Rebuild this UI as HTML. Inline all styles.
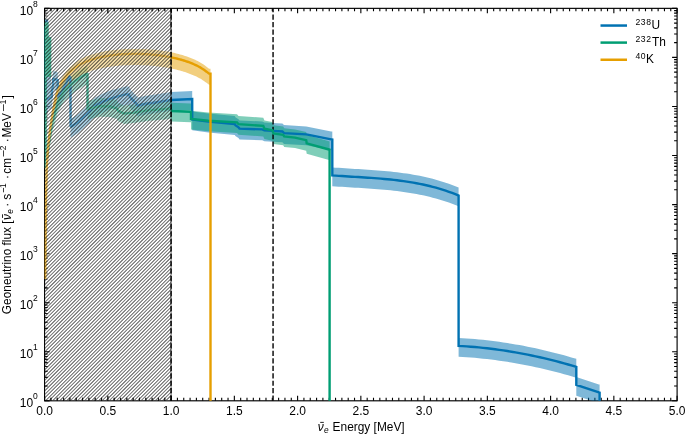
<!DOCTYPE html>
<html><head><meta charset="utf-8"><title>Geoneutrino flux</title>
<style>html,body{margin:0;padding:0;background:#fff;width:685px;height:434px;overflow:hidden}svg{display:block}
text{font-family:"Liberation Sans",sans-serif}svg{will-change:transform}</style></head>
<body>
<svg width="685" height="434" viewBox="0 0 685 434">
<defs>
<clipPath id="ax"><rect x="44.60" y="8.35" width="632.50" height="392.45"/></clipPath>
<linearGradient id="hatch" gradientUnits="userSpaceOnUse" x1="0.2000" y1="0" x2="1.9700" y2="1.7700" spreadMethod="repeat"><stop offset="0" stop-color="#000" stop-opacity="0.500"/><stop offset="0.15" stop-color="#000" stop-opacity="0.480"/><stop offset="0.29" stop-color="#000" stop-opacity="0.100"/><stop offset="0.35" stop-color="#000" stop-opacity="0.000"/><stop offset="0.65" stop-color="#000" stop-opacity="0.000"/><stop offset="0.71" stop-color="#000" stop-opacity="0.100"/><stop offset="0.85" stop-color="#000" stop-opacity="0.480"/><stop offset="1" stop-color="#000" stop-opacity="0.500"/></linearGradient>
</defs>
<rect width="685" height="434" fill="#fff"/>
<path d="M44.60,400.8 v-5.0 M44.60,8.35 v5.0 M50.93,400.8 v-3.0 M50.93,8.35 v3.0 M57.25,400.8 v-3.0 M57.25,8.35 v3.0 M63.58,400.8 v-3.0 M63.58,8.35 v3.0 M69.90,400.8 v-3.0 M69.90,8.35 v3.0 M76.22,400.8 v-3.0 M76.22,8.35 v3.0 M82.55,400.8 v-3.0 M82.55,8.35 v3.0 M88.88,400.8 v-3.0 M88.88,8.35 v3.0 M95.20,400.8 v-3.0 M95.20,8.35 v3.0 M101.53,400.8 v-3.0 M101.53,8.35 v3.0 M107.85,400.8 v-5.0 M107.85,8.35 v5.0 M114.18,400.8 v-3.0 M114.18,8.35 v3.0 M120.50,400.8 v-3.0 M120.50,8.35 v3.0 M126.82,400.8 v-3.0 M126.82,8.35 v3.0 M133.15,400.8 v-3.0 M133.15,8.35 v3.0 M139.47,400.8 v-3.0 M139.47,8.35 v3.0 M145.80,400.8 v-3.0 M145.80,8.35 v3.0 M152.12,400.8 v-3.0 M152.12,8.35 v3.0 M158.45,400.8 v-3.0 M158.45,8.35 v3.0 M164.78,400.8 v-3.0 M164.78,8.35 v3.0 M171.10,400.8 v-5.0 M171.10,8.35 v5.0 M177.42,400.8 v-3.0 M177.42,8.35 v3.0 M183.75,400.8 v-3.0 M183.75,8.35 v3.0 M190.08,400.8 v-3.0 M190.08,8.35 v3.0 M196.40,400.8 v-3.0 M196.40,8.35 v3.0 M202.72,400.8 v-3.0 M202.72,8.35 v3.0 M209.05,400.8 v-3.0 M209.05,8.35 v3.0 M215.38,400.8 v-3.0 M215.38,8.35 v3.0 M221.70,400.8 v-3.0 M221.70,8.35 v3.0 M228.03,400.8 v-3.0 M228.03,8.35 v3.0 M234.35,400.8 v-5.0 M234.35,8.35 v5.0 M240.67,400.8 v-3.0 M240.67,8.35 v3.0 M247.00,400.8 v-3.0 M247.00,8.35 v3.0 M253.32,400.8 v-3.0 M253.32,8.35 v3.0 M259.65,400.8 v-3.0 M259.65,8.35 v3.0 M265.98,400.8 v-3.0 M265.98,8.35 v3.0 M272.30,400.8 v-3.0 M272.30,8.35 v3.0 M278.62,400.8 v-3.0 M278.62,8.35 v3.0 M284.95,400.8 v-3.0 M284.95,8.35 v3.0 M291.28,400.8 v-3.0 M291.28,8.35 v3.0 M297.60,400.8 v-5.0 M297.60,8.35 v5.0 M303.93,400.8 v-3.0 M303.93,8.35 v3.0 M310.25,400.8 v-3.0 M310.25,8.35 v3.0 M316.58,400.8 v-3.0 M316.58,8.35 v3.0 M322.90,400.8 v-3.0 M322.90,8.35 v3.0 M329.23,400.8 v-3.0 M329.23,8.35 v3.0 M335.55,400.8 v-3.0 M335.55,8.35 v3.0 M341.88,400.8 v-3.0 M341.88,8.35 v3.0 M348.20,400.8 v-3.0 M348.20,8.35 v3.0 M354.53,400.8 v-3.0 M354.53,8.35 v3.0 M360.85,400.8 v-5.0 M360.85,8.35 v5.0 M367.18,400.8 v-3.0 M367.18,8.35 v3.0 M373.50,400.8 v-3.0 M373.50,8.35 v3.0 M379.83,400.8 v-3.0 M379.83,8.35 v3.0 M386.15,400.8 v-3.0 M386.15,8.35 v3.0 M392.48,400.8 v-3.0 M392.48,8.35 v3.0 M398.80,400.8 v-3.0 M398.80,8.35 v3.0 M405.12,400.8 v-3.0 M405.12,8.35 v3.0 M411.45,400.8 v-3.0 M411.45,8.35 v3.0 M417.78,400.8 v-3.0 M417.78,8.35 v3.0 M424.10,400.8 v-5.0 M424.10,8.35 v5.0 M430.43,400.8 v-3.0 M430.43,8.35 v3.0 M436.75,400.8 v-3.0 M436.75,8.35 v3.0 M443.08,400.8 v-3.0 M443.08,8.35 v3.0 M449.40,400.8 v-3.0 M449.40,8.35 v3.0 M455.73,400.8 v-3.0 M455.73,8.35 v3.0 M462.05,400.8 v-3.0 M462.05,8.35 v3.0 M468.38,400.8 v-3.0 M468.38,8.35 v3.0 M474.70,400.8 v-3.0 M474.70,8.35 v3.0 M481.03,400.8 v-3.0 M481.03,8.35 v3.0 M487.35,400.8 v-5.0 M487.35,8.35 v5.0 M493.68,400.8 v-3.0 M493.68,8.35 v3.0 M500.00,400.8 v-3.0 M500.00,8.35 v3.0 M506.33,400.8 v-3.0 M506.33,8.35 v3.0 M512.65,400.8 v-3.0 M512.65,8.35 v3.0 M518.98,400.8 v-3.0 M518.98,8.35 v3.0 M525.30,400.8 v-3.0 M525.30,8.35 v3.0 M531.62,400.8 v-3.0 M531.62,8.35 v3.0 M537.95,400.8 v-3.0 M537.95,8.35 v3.0 M544.27,400.8 v-3.0 M544.27,8.35 v3.0 M550.60,400.8 v-5.0 M550.60,8.35 v5.0 M556.93,400.8 v-3.0 M556.93,8.35 v3.0 M563.25,400.8 v-3.0 M563.25,8.35 v3.0 M569.58,400.8 v-3.0 M569.58,8.35 v3.0 M575.90,400.8 v-3.0 M575.90,8.35 v3.0 M582.23,400.8 v-3.0 M582.23,8.35 v3.0 M588.55,400.8 v-3.0 M588.55,8.35 v3.0 M594.88,400.8 v-3.0 M594.88,8.35 v3.0 M601.20,400.8 v-3.0 M601.20,8.35 v3.0 M607.52,400.8 v-3.0 M607.52,8.35 v3.0 M613.85,400.8 v-5.0 M613.85,8.35 v5.0 M620.18,400.8 v-3.0 M620.18,8.35 v3.0 M626.50,400.8 v-3.0 M626.50,8.35 v3.0 M632.83,400.8 v-3.0 M632.83,8.35 v3.0 M639.15,400.8 v-3.0 M639.15,8.35 v3.0 M645.48,400.8 v-3.0 M645.48,8.35 v3.0 M651.80,400.8 v-3.0 M651.80,8.35 v3.0 M658.13,400.8 v-3.0 M658.13,8.35 v3.0 M664.45,400.8 v-3.0 M664.45,8.35 v3.0 M670.77,400.8 v-3.0 M670.77,8.35 v3.0 M677.10,400.8 v-5.0 M677.10,8.35 v5.0 M44.6,400.80 h5.0 M677.1,400.80 h-5.0 M44.6,386.03 h3.0 M677.1,386.03 h-3.0 M44.6,377.39 h3.0 M677.1,377.39 h-3.0 M44.6,371.27 h3.0 M677.1,371.27 h-3.0 M44.6,366.51 h3.0 M677.1,366.51 h-3.0 M44.6,362.63 h3.0 M677.1,362.63 h-3.0 M44.6,359.34 h3.0 M677.1,359.34 h-3.0 M44.6,356.50 h3.0 M677.1,356.50 h-3.0 M44.6,353.99 h3.0 M677.1,353.99 h-3.0 M44.6,351.74 h5.0 M677.1,351.74 h-5.0 M44.6,336.98 h3.0 M677.1,336.98 h-3.0 M44.6,328.34 h3.0 M677.1,328.34 h-3.0 M44.6,322.21 h3.0 M677.1,322.21 h-3.0 M44.6,317.45 h3.0 M677.1,317.45 h-3.0 M44.6,313.57 h3.0 M677.1,313.57 h-3.0 M44.6,310.29 h3.0 M677.1,310.29 h-3.0 M44.6,307.44 h3.0 M677.1,307.44 h-3.0 M44.6,304.93 h3.0 M677.1,304.93 h-3.0 M44.6,302.69 h5.0 M677.1,302.69 h-5.0 M44.6,287.92 h3.0 M677.1,287.92 h-3.0 M44.6,279.28 h3.0 M677.1,279.28 h-3.0 M44.6,273.15 h3.0 M677.1,273.15 h-3.0 M44.6,268.40 h3.0 M677.1,268.40 h-3.0 M44.6,264.51 h3.0 M677.1,264.51 h-3.0 M44.6,261.23 h3.0 M677.1,261.23 h-3.0 M44.6,258.39 h3.0 M677.1,258.39 h-3.0 M44.6,255.88 h3.0 M677.1,255.88 h-3.0 M44.6,253.63 h5.0 M677.1,253.63 h-5.0 M44.6,238.86 h3.0 M677.1,238.86 h-3.0 M44.6,230.23 h3.0 M677.1,230.23 h-3.0 M44.6,224.10 h3.0 M677.1,224.10 h-3.0 M44.6,219.34 h3.0 M677.1,219.34 h-3.0 M44.6,215.46 h3.0 M677.1,215.46 h-3.0 M44.6,212.17 h3.0 M677.1,212.17 h-3.0 M44.6,209.33 h3.0 M677.1,209.33 h-3.0 M44.6,206.82 h3.0 M677.1,206.82 h-3.0 M44.6,204.58 h5.0 M677.1,204.58 h-5.0 M44.6,189.81 h3.0 M677.1,189.81 h-3.0 M44.6,181.17 h3.0 M677.1,181.17 h-3.0 M44.6,175.04 h3.0 M677.1,175.04 h-3.0 M44.6,170.29 h3.0 M677.1,170.29 h-3.0 M44.6,166.40 h3.0 M677.1,166.40 h-3.0 M44.6,163.12 h3.0 M677.1,163.12 h-3.0 M44.6,160.27 h3.0 M677.1,160.27 h-3.0 M44.6,157.76 h3.0 M677.1,157.76 h-3.0 M44.6,155.52 h5.0 M677.1,155.52 h-5.0 M44.6,140.75 h3.0 M677.1,140.75 h-3.0 M44.6,132.11 h3.0 M677.1,132.11 h-3.0 M44.6,125.98 h3.0 M677.1,125.98 h-3.0 M44.6,121.23 h3.0 M677.1,121.23 h-3.0 M44.6,117.35 h3.0 M677.1,117.35 h-3.0 M44.6,114.06 h3.0 M677.1,114.06 h-3.0 M44.6,111.22 h3.0 M677.1,111.22 h-3.0 M44.6,108.71 h3.0 M677.1,108.71 h-3.0 M44.6,106.46 h5.0 M677.1,106.46 h-5.0 M44.6,91.70 h3.0 M677.1,91.70 h-3.0 M44.6,83.06 h3.0 M677.1,83.06 h-3.0 M44.6,76.93 h3.0 M677.1,76.93 h-3.0 M44.6,72.17 h3.0 M677.1,72.17 h-3.0 M44.6,68.29 h3.0 M677.1,68.29 h-3.0 M44.6,65.01 h3.0 M677.1,65.01 h-3.0 M44.6,62.16 h3.0 M677.1,62.16 h-3.0 M44.6,59.65 h3.0 M677.1,59.65 h-3.0 M44.6,57.41 h5.0 M677.1,57.41 h-5.0 M44.6,42.64 h3.0 M677.1,42.64 h-3.0 M44.6,34.00 h3.0 M677.1,34.00 h-3.0 M44.6,27.87 h3.0 M677.1,27.87 h-3.0 M44.6,23.12 h3.0 M677.1,23.12 h-3.0 M44.6,19.23 h3.0 M677.1,19.23 h-3.0 M44.6,15.95 h3.0 M677.1,15.95 h-3.0 M44.6,13.10 h3.0 M677.1,13.10 h-3.0 M44.6,10.59 h3.0 M677.1,10.59 h-3.0 M44.6,8.35 h5.0 M677.1,8.35 h-5.0" stroke="#000" stroke-width="1.1" fill="none"/>
<rect x="44.6" y="8.35" width="632.50" height="392.45" fill="none" stroke="#000" stroke-width="1.15"/>
<g clip-path="url(#ax)">
<path d="M44.80,20.00 L45.60,21.00 L45.70,92.00 L51.60,89.00 L53.30,71.00 L57.60,72.00 L58.20,88.00 L60.00,87.00 L69.50,69.00 L70.40,69.50 L70.60,119.00 L77.70,114.50 L90.30,103.00 L95.00,97.50 L103.00,93.60 L111.00,90.30 L119.00,88.20 L126.50,86.20 L128.90,86.60 L130.50,89.70 L132.90,92.20 L136.10,95.40 L137.70,97.60 L143.40,96.30 L155.00,94.50 L171.20,92.00 L192.20,91.00 L192.20,111.50 L208.30,113.60 L234.80,116.10 L235.40,117.20 L238.50,119.30 L239.50,120.60 L262.30,121.40 L264.40,122.40 L272.70,122.90 L282.40,123.50 L284.00,125.10 L306.30,126.40 L331.20,131.40 L332.30,131.60 L332.30,167.39 L335.54,167.63 L338.78,167.85 L342.02,168.07 L345.25,168.28 L348.49,168.48 L351.73,168.68 L354.97,168.88 L358.21,169.07 L361.45,169.27 L364.68,169.48 L367.92,169.69 L371.16,169.91 L374.40,170.14 L377.64,170.39 L380.88,170.65 L384.12,170.93 L387.35,171.24 L390.59,171.56 L393.83,171.91 L397.07,172.29 L400.31,172.69 L403.55,173.13 L406.78,173.60 L410.02,174.10 L413.26,174.65 L416.50,175.23 L419.74,175.86 L422.98,176.53 L426.22,177.25 L429.45,178.02 L432.69,178.84 L435.93,179.71 L439.17,180.64 L442.41,181.63 L445.65,182.68 L448.88,183.79 L452.12,184.96 L455.36,186.21 L458.60,187.52 L458.60,187.60 L458.60,337.70 L458.60,337.89 L462.66,338.13 L466.72,338.40 L470.78,338.71 L474.83,339.05 L478.89,339.43 L482.95,339.84 L487.01,340.29 L491.07,340.77 L495.13,341.29 L499.19,341.84 L503.24,342.42 L507.30,343.04 L511.36,343.70 L515.42,344.38 L519.48,345.11 L523.54,345.87 L527.60,346.66 L531.66,347.49 L535.71,348.35 L539.77,349.24 L543.83,350.17 L547.89,351.14 L551.95,352.14 L556.01,353.17 L560.07,354.24 L564.12,355.35 L568.18,356.48 L572.24,357.66 L576.30,358.86 L576.30,359.00 L576.30,376.90 L598.90,384.40 L599.60,384.60 L599.60,403.40 L598.90,403.20 L576.30,395.70 L576.30,377.80 L576.30,377.66 L572.24,376.46 L568.18,375.28 L564.12,374.15 L560.07,373.04 L556.01,371.97 L551.95,370.94 L547.89,369.94 L543.83,368.97 L539.77,368.04 L535.71,367.15 L531.66,366.29 L527.60,365.46 L523.54,364.67 L519.48,363.91 L515.42,363.18 L511.36,362.50 L507.30,361.84 L503.24,361.22 L499.19,360.64 L495.13,360.09 L491.07,359.57 L487.01,359.09 L482.95,358.64 L478.89,358.23 L474.83,357.85 L470.78,357.51 L466.72,357.20 L462.66,356.93 L458.60,356.69 L458.60,356.50 L458.60,206.40 L458.60,206.32 L455.36,205.01 L452.12,203.76 L448.88,202.59 L445.65,201.48 L442.41,200.43 L439.17,199.44 L435.93,198.51 L432.69,197.64 L429.45,196.82 L426.22,196.05 L422.98,195.33 L419.74,194.66 L416.50,194.03 L413.26,193.45 L410.02,192.90 L406.78,192.40 L403.55,191.93 L400.31,191.49 L397.07,191.09 L393.83,190.71 L390.59,190.36 L387.35,190.04 L384.12,189.73 L380.88,189.45 L377.64,189.19 L374.40,188.94 L371.16,188.71 L367.92,188.49 L364.68,188.28 L361.45,188.07 L358.21,187.87 L354.97,187.68 L351.73,187.48 L348.49,187.28 L345.25,187.08 L342.02,186.87 L338.78,186.65 L335.54,186.43 L332.30,186.19 L332.30,150.40 L331.20,150.20 L306.30,145.20 L284.00,143.90 L282.40,142.30 L272.70,141.70 L264.40,141.20 L262.30,140.20 L239.50,139.40 L238.50,138.10 L235.40,136.00 L234.80,134.90 L208.30,132.40 L192.20,130.30 L192.20,109.80 L171.20,110.80 L155.00,113.30 L143.40,115.10 L137.70,116.40 L136.10,114.20 L132.90,111.00 L130.50,108.50 L128.90,105.40 L126.50,105.00 L119.00,107.00 L111.00,109.10 L103.00,112.40 L95.00,116.30 L90.30,121.80 L77.70,133.30 L70.60,137.80 L70.40,88.30 L69.50,87.80 L60.00,105.80 L58.20,106.80 L57.60,90.80 L53.30,89.80 L51.60,107.80 L45.70,110.80 L45.60,39.80 L44.80,38.80 Z M45.5,77 L51,77 L51,100 L48,100 L48,113 L45.5,113 Z" fill="#0072B2" fill-opacity="0.5"/>
<path d="M44.90,17.80 L45.50,19.80 L45.60,159.80 L48.60,136.80 L51.70,116.30 L57.80,93.80 L64.00,82.80 L75.00,72.80 L86.00,66.00 L87.50,66.00 L87.50,100.80 L100.00,98.00 L110.00,98.20 L116.60,100.10 L118.50,102.90 L124.20,105.40 L133.70,104.40 L148.00,102.20 L170.60,100.40 L171.60,102.80 L190.40,103.50 L191.00,103.50 L191.00,110.80 L208.30,112.50 L237.00,114.20 L238.50,116.00 L263.30,117.70 L264.40,120.40 L272.30,122.10 L273.50,125.30 L283.20,126.60 L284.20,128.20 L295.00,129.40 L306.20,132.00 L306.70,135.10 L329.00,141.30 L329.60,141.50 L329.60,160.20 L329.00,160.00 L306.70,153.80 L306.20,150.70 L295.00,148.10 L284.20,146.90 L283.20,145.30 L273.50,144.00 L272.30,140.80 L264.40,139.10 L263.30,136.40 L238.50,134.70 L237.00,132.90 L208.30,131.20 L191.00,129.50 L191.00,122.20 L190.40,122.20 L171.60,121.50 L170.60,119.10 L148.00,120.90 L133.70,123.10 L124.20,124.10 L118.50,121.60 L116.60,118.80 L110.00,116.90 L100.00,116.70 L87.50,119.50 L87.50,84.70 L86.00,84.70 L75.00,91.50 L64.00,101.50 L57.80,112.50 L51.70,135.00 L48.60,155.50 L45.60,178.50 L45.50,38.50 L44.90,36.50 Z" fill="#009E73" fill-opacity="0.5"/>
<path d="M45.30,274.00 L45.60,235.00 L46.00,195.00 L46.60,165.00 L47.80,145.00 L50.00,125.00 L53.20,105.00 L56.30,90.00 L57.25,87.43 L58.52,84.32 L59.78,81.56 L61.05,79.08 L62.31,76.86 L63.58,74.84 L64.84,73.01 L66.11,71.33 L67.37,69.80 L68.63,68.39 L69.90,67.09 L71.16,65.89 L72.43,64.78 L73.69,63.74 L74.96,62.78 L76.22,61.89 L77.49,61.05 L78.75,60.27 L80.02,59.54 L81.28,58.86 L82.55,58.22 L83.81,57.62 L85.08,57.05 L86.34,56.51 L87.61,56.01 L88.87,55.54 L90.14,55.09 L91.40,54.67 L92.67,54.27 L93.93,53.89 L95.20,53.53 L96.46,53.19 L97.73,52.88 L98.99,52.57 L100.26,52.29 L101.52,52.02 L102.79,51.76 L104.05,51.52 L105.32,51.29 L106.58,51.07 L107.85,50.87 L109.11,50.68 L110.38,50.50 L111.64,50.33 L112.91,50.17 L114.17,50.02 L115.44,49.88 L116.70,49.75 L117.97,49.63 L119.23,49.52 L120.50,49.42 L121.76,49.33 L123.03,49.25 L124.29,49.17 L125.56,49.11 L126.82,49.05 L128.09,49.00 L129.35,48.96 L130.62,48.93 L131.88,48.90 L133.15,48.89 L134.41,48.88 L135.68,48.88 L136.94,48.89 L138.21,48.90 L139.47,48.93 L140.74,48.96 L142.00,49.00 L143.27,49.05 L144.53,49.10 L145.80,49.17 L147.06,49.24 L148.33,49.32 L149.59,49.41 L150.86,49.51 L152.12,49.61 L153.39,49.73 L154.65,49.85 L155.92,49.98 L157.18,50.12 L158.45,50.27 L159.71,50.43 L160.98,50.60 L162.24,50.77 L163.51,50.96 L164.77,51.16 L166.04,51.37 L167.30,51.58 L168.57,51.81 L169.83,52.05 L171.10,52.30 L172.36,52.56 L173.63,52.83 L174.89,53.12 L176.16,53.42 L177.42,53.73 L178.69,54.05 L179.95,54.39 L181.22,54.75 L182.48,55.11 L183.75,55.50 L185.01,55.90 L186.28,56.31 L187.54,56.75 L188.81,57.21 L190.07,57.68 L191.34,58.18 L192.60,58.70 L193.87,59.24 L195.13,59.81 L196.40,60.42 L197.66,61.05 L198.93,61.71 L200.19,62.42 L201.46,63.17 L202.72,63.96 L203.99,64.81 L205.25,65.71 L206.52,66.67 L207.78,67.67 L209.05,68.64 L210.50,68.64 L210.50,84.84 L209.05,84.84 L207.78,83.87 L206.52,82.87 L205.25,81.91 L203.99,81.01 L202.72,80.16 L201.46,79.37 L200.19,78.62 L198.93,77.91 L197.66,77.25 L196.40,76.62 L195.13,76.01 L193.87,75.44 L192.60,74.90 L191.34,74.38 L190.07,73.88 L188.81,73.41 L187.54,72.95 L186.28,72.51 L185.01,72.10 L183.75,71.70 L182.48,71.31 L181.22,70.95 L179.95,70.59 L178.69,70.25 L177.42,69.93 L176.16,69.62 L174.89,69.32 L173.63,69.03 L172.36,68.76 L171.10,68.50 L169.83,68.25 L168.57,68.01 L167.30,67.78 L166.04,67.57 L164.77,67.36 L163.51,67.16 L162.24,66.97 L160.98,66.80 L159.71,66.63 L158.45,66.47 L157.18,66.32 L155.92,66.18 L154.65,66.05 L153.39,65.93 L152.12,65.81 L150.86,65.71 L149.59,65.61 L148.33,65.52 L147.06,65.44 L145.80,65.37 L144.53,65.30 L143.27,65.25 L142.00,65.20 L140.74,65.16 L139.47,65.13 L138.21,65.10 L136.94,65.09 L135.68,65.08 L134.41,65.08 L133.15,65.09 L131.88,65.10 L130.62,65.13 L129.35,65.16 L128.09,65.20 L126.82,65.25 L125.56,65.31 L124.29,65.37 L123.03,65.45 L121.76,65.53 L120.50,65.62 L119.23,65.72 L117.97,65.83 L116.70,65.95 L115.44,66.08 L114.17,66.22 L112.91,66.37 L111.64,66.53 L110.38,66.70 L109.11,66.88 L107.85,67.07 L106.58,67.27 L105.32,67.49 L104.05,67.72 L102.79,67.96 L101.52,68.22 L100.26,68.49 L98.99,68.77 L97.73,69.08 L96.46,69.39 L95.20,69.73 L93.93,70.09 L92.67,70.47 L91.40,70.87 L90.14,71.29 L88.87,71.74 L87.61,72.21 L86.34,72.71 L85.08,73.25 L83.81,73.82 L82.55,74.42 L81.28,75.06 L80.02,75.74 L78.75,76.47 L77.49,77.25 L76.22,78.09 L74.96,78.98 L73.69,79.94 L72.43,80.98 L71.16,82.09 L69.90,83.29 L68.63,84.59 L67.37,86.00 L66.11,87.53 L64.84,89.21 L63.58,91.04 L62.31,93.06 L61.05,95.28 L59.78,97.76 L58.52,100.52 L57.25,103.63 L56.30,106.20 L53.20,121.20 L50.00,141.20 L47.80,161.20 L46.60,181.20 L46.00,211.20 L45.60,251.20 L45.30,290.20 Z" fill="#E69F00" fill-opacity="0.5"/>
</g>
<line x1="273.06" y1="400.8" x2="273.06" y2="8.35" stroke="#000" stroke-width="1.4" stroke-dasharray="5.21,2.26"/>
<g clip-path="url(#ax)">
<path d="M45.2,19.8 L48.2,19.8 L48.2,77 L45.2,77 Z" fill="#0072B2"/>
<path d="M44.80,28.00 L45.60,29.00 L45.70,100.00 L51.60,97.00 L53.30,79.00 L57.60,80.00 L58.20,96.00 L60.00,95.00 L69.50,77.00 L70.40,77.50 L70.60,127.00 L77.70,122.50 L90.30,111.00 L95.00,105.50 L103.00,101.60 L111.00,98.30 L119.00,96.20 L126.50,94.20 L128.90,94.60 L130.50,97.70 L132.90,100.20 L136.10,103.40 L137.70,105.60 L143.40,104.30 L155.00,102.50 L171.20,100.00 L192.20,99.00 L192.20,119.50 L208.30,121.60 L234.80,124.10 L235.40,125.20 L238.50,127.30 L239.50,128.60 L262.30,129.40 L264.40,130.40 L272.70,130.90 L282.40,131.50 L284.00,133.10 L306.30,134.40 L331.20,139.40 L332.30,139.60 L332.30,175.39 L335.54,175.63 L338.78,175.85 L342.02,176.07 L345.25,176.28 L348.49,176.48 L351.73,176.68 L354.97,176.88 L358.21,177.07 L361.45,177.27 L364.68,177.48 L367.92,177.69 L371.16,177.91 L374.40,178.14 L377.64,178.39 L380.88,178.65 L384.12,178.93 L387.35,179.24 L390.59,179.56 L393.83,179.91 L397.07,180.29 L400.31,180.69 L403.55,181.13 L406.78,181.60 L410.02,182.10 L413.26,182.65 L416.50,183.23 L419.74,183.86 L422.98,184.53 L426.22,185.25 L429.45,186.02 L432.69,186.84 L435.93,187.71 L439.17,188.64 L442.41,189.63 L445.65,190.68 L448.88,191.79 L452.12,192.96 L455.36,194.21 L458.60,195.52 L458.60,195.60 L458.60,345.70 L458.60,345.89 L462.66,346.13 L466.72,346.40 L470.78,346.71 L474.83,347.05 L478.89,347.43 L482.95,347.84 L487.01,348.29 L491.07,348.77 L495.13,349.29 L499.19,349.84 L503.24,350.42 L507.30,351.04 L511.36,351.70 L515.42,352.38 L519.48,353.11 L523.54,353.87 L527.60,354.66 L531.66,355.49 L535.71,356.35 L539.77,357.24 L543.83,358.17 L547.89,359.14 L551.95,360.14 L556.01,361.17 L560.07,362.24 L564.12,363.35 L568.18,364.48 L572.24,365.66 L576.30,366.86 L576.30,367.00 L576.30,384.90 L598.90,392.40 L599.60,392.60 L599.60,402.00" fill="none" stroke="#0072B2" stroke-width="2.4" stroke-linejoin="miter" stroke-miterlimit="2"/>
<path d="M44.6,22.3 L48.6,22.3 L48.6,37 L51.3,37 L51.3,77 L44.6,77 Z" fill="#009E73"/>
<path d="M44.90,26.00 L45.50,28.00 L45.60,168.00 L48.60,145.00 L51.70,124.50 L57.80,102.00 L64.00,91.00 L75.00,81.00 L86.00,74.20 L87.50,74.20 L87.50,109.00 L100.00,106.20 L110.00,106.40 L116.60,108.30 L118.50,111.10 L124.20,113.60 L133.70,112.60 L148.00,110.40 L170.60,108.60 L171.60,111.00 L190.40,111.70 L191.00,111.70 L191.00,119.00 L208.30,120.70 L237.00,122.40 L238.50,124.20 L263.30,125.90 L264.40,128.60 L272.30,130.30 L273.50,133.50 L283.20,134.80 L284.20,136.40 L295.00,137.60 L306.20,140.20 L306.70,143.30 L329.00,149.50 L329.60,149.70 L329.60,402.00" fill="none" stroke="#009E73" stroke-width="2.4" stroke-linejoin="miter" stroke-miterlimit="2"/>
<path d="M45.30,279.00 L45.60,240.00 L46.00,200.00 L46.60,170.00 L47.80,150.00 L50.00,130.00 L53.20,110.00 L56.30,95.00 L57.25,92.43 L58.52,89.32 L59.78,86.56 L61.05,84.08 L62.31,81.86 L63.58,79.84 L64.84,78.01 L66.11,76.33 L67.37,74.80 L68.63,73.39 L69.90,72.09 L71.16,70.89 L72.43,69.78 L73.69,68.74 L74.96,67.78 L76.22,66.89 L77.49,66.05 L78.75,65.27 L80.02,64.54 L81.28,63.86 L82.55,63.22 L83.81,62.62 L85.08,62.05 L86.34,61.51 L87.61,61.01 L88.87,60.54 L90.14,60.09 L91.40,59.67 L92.67,59.27 L93.93,58.89 L95.20,58.53 L96.46,58.19 L97.73,57.88 L98.99,57.57 L100.26,57.29 L101.52,57.02 L102.79,56.76 L104.05,56.52 L105.32,56.29 L106.58,56.07 L107.85,55.87 L109.11,55.68 L110.38,55.50 L111.64,55.33 L112.91,55.17 L114.17,55.02 L115.44,54.88 L116.70,54.75 L117.97,54.63 L119.23,54.52 L120.50,54.42 L121.76,54.33 L123.03,54.25 L124.29,54.17 L125.56,54.11 L126.82,54.05 L128.09,54.00 L129.35,53.96 L130.62,53.93 L131.88,53.90 L133.15,53.89 L134.41,53.88 L135.68,53.88 L136.94,53.89 L138.21,53.90 L139.47,53.93 L140.74,53.96 L142.00,54.00 L143.27,54.05 L144.53,54.10 L145.80,54.17 L147.06,54.24 L148.33,54.32 L149.59,54.41 L150.86,54.51 L152.12,54.61 L153.39,54.73 L154.65,54.85 L155.92,54.98 L157.18,55.12 L158.45,55.27 L159.71,55.43 L160.98,55.60 L162.24,55.77 L163.51,55.96 L164.77,56.16 L166.04,56.37 L167.30,56.58 L168.57,56.81 L169.83,57.05 L171.10,57.30 L172.36,57.56 L173.63,57.83 L174.89,58.12 L176.16,58.42 L177.42,58.73 L178.69,59.05 L179.95,59.39 L181.22,59.75 L182.48,60.11 L183.75,60.50 L185.01,60.90 L186.28,61.31 L187.54,61.75 L188.81,62.21 L190.07,62.68 L191.34,63.18 L192.60,63.70 L193.87,64.24 L195.13,64.81 L196.40,65.42 L197.66,66.05 L198.93,66.71 L200.19,67.42 L201.46,68.17 L202.72,68.96 L203.99,69.81 L205.25,70.71 L206.52,71.67 L207.78,72.67 L209.05,73.64 L210.50,73.64 L210.50,402.00" fill="none" stroke="#E69F00" stroke-width="2.4" stroke-linejoin="miter" stroke-miterlimit="2"/>
<rect x="45.15" y="8.90" width="125.95" height="391.35" fill="#fff" fill-opacity="0.35"/>
<rect x="45.15" y="8.90" width="125.95" height="391.35" fill="url(#hatch)"/>
</g>
<path d="M44.60,8.35 v5.0 M44.60,400.8 v-5.0 M50.93,8.35 v3.0 M50.93,400.8 v-3.0 M57.25,8.35 v3.0 M57.25,400.8 v-3.0 M63.58,8.35 v3.0 M63.58,400.8 v-3.0 M69.90,8.35 v3.0 M69.90,400.8 v-3.0 M76.22,8.35 v3.0 M76.22,400.8 v-3.0 M82.55,8.35 v3.0 M82.55,400.8 v-3.0 M88.88,8.35 v3.0 M88.88,400.8 v-3.0 M95.20,8.35 v3.0 M95.20,400.8 v-3.0 M101.53,8.35 v3.0 M101.53,400.8 v-3.0 M107.85,8.35 v5.0 M107.85,400.8 v-5.0 M114.18,8.35 v3.0 M114.18,400.8 v-3.0 M120.50,8.35 v3.0 M120.50,400.8 v-3.0 M126.82,8.35 v3.0 M126.82,400.8 v-3.0 M133.15,8.35 v3.0 M133.15,400.8 v-3.0 M139.47,8.35 v3.0 M139.47,400.8 v-3.0 M145.80,8.35 v3.0 M145.80,400.8 v-3.0 M152.12,8.35 v3.0 M152.12,400.8 v-3.0 M158.45,8.35 v3.0 M158.45,400.8 v-3.0 M164.78,8.35 v3.0 M164.78,400.8 v-3.0 M171.10,8.35 v5.0 M171.10,400.8 v-5.0 M44.6,400.80 h5.0 M44.6,386.03 h3.0 M44.6,377.39 h3.0 M44.6,371.27 h3.0 M44.6,366.51 h3.0 M44.6,362.63 h3.0 M44.6,359.34 h3.0 M44.6,356.50 h3.0 M44.6,353.99 h3.0 M44.6,351.74 h5.0 M44.6,336.98 h3.0 M44.6,328.34 h3.0 M44.6,322.21 h3.0 M44.6,317.45 h3.0 M44.6,313.57 h3.0 M44.6,310.29 h3.0 M44.6,307.44 h3.0 M44.6,304.93 h3.0 M44.6,302.69 h5.0 M44.6,287.92 h3.0" stroke="#000" stroke-opacity="0.75" stroke-width="1.1" fill="none"/>
<line x1="171.10" y1="400.8" x2="171.10" y2="8.35" stroke="#000" stroke-opacity="0.5" stroke-width="1.2"/>
<line x1="171.10" y1="400.8" x2="171.10" y2="8.35" stroke="#000" stroke-width="1.4" stroke-dasharray="5.21,2.26"/>
<text x="44.60" y="414.6" font-family="&quot;Liberation Sans&quot;, sans-serif" font-size="12" text-anchor="middle" fill="#000">0.0</text>
<text x="107.85" y="414.6" font-family="&quot;Liberation Sans&quot;, sans-serif" font-size="12" text-anchor="middle" fill="#000">0.5</text>
<text x="171.10" y="414.6" font-family="&quot;Liberation Sans&quot;, sans-serif" font-size="12" text-anchor="middle" fill="#000">1.0</text>
<text x="234.35" y="414.6" font-family="&quot;Liberation Sans&quot;, sans-serif" font-size="12" text-anchor="middle" fill="#000">1.5</text>
<text x="297.60" y="414.6" font-family="&quot;Liberation Sans&quot;, sans-serif" font-size="12" text-anchor="middle" fill="#000">2.0</text>
<text x="360.85" y="414.6" font-family="&quot;Liberation Sans&quot;, sans-serif" font-size="12" text-anchor="middle" fill="#000">2.5</text>
<text x="424.10" y="414.6" font-family="&quot;Liberation Sans&quot;, sans-serif" font-size="12" text-anchor="middle" fill="#000">3.0</text>
<text x="487.35" y="414.6" font-family="&quot;Liberation Sans&quot;, sans-serif" font-size="12" text-anchor="middle" fill="#000">3.5</text>
<text x="550.60" y="414.6" font-family="&quot;Liberation Sans&quot;, sans-serif" font-size="12" text-anchor="middle" fill="#000">4.0</text>
<text x="613.85" y="414.6" font-family="&quot;Liberation Sans&quot;, sans-serif" font-size="12" text-anchor="middle" fill="#000">4.5</text>
<text x="677.10" y="414.6" font-family="&quot;Liberation Sans&quot;, sans-serif" font-size="12" text-anchor="middle" fill="#000">5.0</text>
<text x="37.8" y="407.30" font-family="&quot;Liberation Sans&quot;, sans-serif" font-size="12" text-anchor="end" fill="#000">10<tspan dy="-8.3" font-size="8.5">0</tspan></text>
<text x="37.8" y="358.24" font-family="&quot;Liberation Sans&quot;, sans-serif" font-size="12" text-anchor="end" fill="#000">10<tspan dy="-8.3" font-size="8.5">1</tspan></text>
<text x="37.8" y="309.19" font-family="&quot;Liberation Sans&quot;, sans-serif" font-size="12" text-anchor="end" fill="#000">10<tspan dy="-8.3" font-size="8.5">2</tspan></text>
<text x="37.8" y="260.13" font-family="&quot;Liberation Sans&quot;, sans-serif" font-size="12" text-anchor="end" fill="#000">10<tspan dy="-8.3" font-size="8.5">3</tspan></text>
<text x="37.8" y="211.08" font-family="&quot;Liberation Sans&quot;, sans-serif" font-size="12" text-anchor="end" fill="#000">10<tspan dy="-8.3" font-size="8.5">4</tspan></text>
<text x="37.8" y="162.02" font-family="&quot;Liberation Sans&quot;, sans-serif" font-size="12" text-anchor="end" fill="#000">10<tspan dy="-8.3" font-size="8.5">5</tspan></text>
<text x="37.8" y="112.96" font-family="&quot;Liberation Sans&quot;, sans-serif" font-size="12" text-anchor="end" fill="#000">10<tspan dy="-8.3" font-size="8.5">6</tspan></text>
<text x="37.8" y="63.91" font-family="&quot;Liberation Sans&quot;, sans-serif" font-size="12" text-anchor="end" fill="#000">10<tspan dy="-8.3" font-size="8.5">7</tspan></text>
<text x="37.8" y="14.85" font-family="&quot;Liberation Sans&quot;, sans-serif" font-size="12" text-anchor="end" fill="#000">10<tspan dy="-8.3" font-size="8.5">8</tspan></text>
<text x="317.7" y="430.7" font-family="&quot;Liberation Sans&quot;, sans-serif" font-size="11.9" font-style="italic" fill="#000">ν</text>
<rect x="320.2" y="421.9" width="3.6" height="0.85" fill="#000"/>
<text x="324.0" y="432.7" font-family="&quot;Liberation Sans&quot;, sans-serif" font-size="8.3" font-style="italic" fill="#000">e</text>
<text x="332.6" y="430.7" font-family="&quot;Liberation Sans&quot;, sans-serif" font-size="11.9" fill="#000">Energy [MeV]</text>
<g transform="translate(11.0,314.2) rotate(-90)">
<text x="0" y="0" font-family="&quot;Liberation Sans&quot;, sans-serif" font-size="11.9" fill="#000">Geoneutrino flux [</text>
<text x="94.2" y="0" font-family="&quot;Liberation Sans&quot;, sans-serif" font-size="11.9" font-style="italic" fill="#000">ν</text>
<rect x="96.30" y="-9.0" width="3.6" height="0.85" fill="#000"/>
<text x="100.5" y="1.8" font-family="&quot;Liberation Sans&quot;, sans-serif" font-size="8.3" font-style="italic" fill="#000">e</text>
<text x="107.4" y="0" font-family="&quot;Liberation Sans&quot;, sans-serif" font-size="11.9" fill="#000">·</text>
<text x="114.5" y="0" font-family="&quot;Liberation Sans&quot;, sans-serif" font-size="11.9" fill="#000">s</text>
<rect x="121.9" y="-7.78" width="4.40" height="0.75" fill="#000"/>
<text x="126.1" y="-5.3" font-family="&quot;Liberation Sans&quot;, sans-serif" font-size="8.3" fill="#000">1</text>
<text x="135.2" y="0" font-family="&quot;Liberation Sans&quot;, sans-serif" font-size="11.9" fill="#000">·</text>
<text x="140.4" y="0" font-family="&quot;Liberation Sans&quot;, sans-serif" font-size="11.9" fill="#000">cm</text>
<rect x="157.7" y="-7.78" width="6.10" height="0.75" fill="#000"/>
<text x="163.9" y="-5.3" font-family="&quot;Liberation Sans&quot;, sans-serif" font-size="8.3" fill="#000">2</text>
<text x="172.0" y="0" font-family="&quot;Liberation Sans&quot;, sans-serif" font-size="11.9" fill="#000">·</text>
<text x="176.6" y="0" font-family="&quot;Liberation Sans&quot;, sans-serif" font-size="11.9" fill="#000">MeV</text>
<rect x="203.1" y="-7.78" width="6.80" height="0.75" fill="#000"/>
<text x="209.9" y="-5.3" font-family="&quot;Liberation Sans&quot;, sans-serif" font-size="8.3" fill="#000">1</text>
<text x="215.6" y="0" font-family="&quot;Liberation Sans&quot;, sans-serif" font-size="11.9" fill="#000">]</text>
</g>
<line x1="600.5" y1="25.55" x2="627.0" y2="25.55" stroke="#0072B2" stroke-width="2.5"/>
<line x1="600.5" y1="42.6" x2="627.0" y2="42.6" stroke="#009E73" stroke-width="2.5"/>
<line x1="600.5" y1="59.75" x2="627.0" y2="59.75" stroke="#E69F00" stroke-width="2.5"/>
<text x="635.4" y="24.50" font-family="&quot;Liberation Sans&quot;, sans-serif" font-size="8.6" letter-spacing="0.6" fill="#000">238</text>
<text x="651.6" y="29.2" font-family="&quot;Liberation Sans&quot;, sans-serif" font-size="11.9" fill="#000">U</text>
<text x="635.4" y="41.70" font-family="&quot;Liberation Sans&quot;, sans-serif" font-size="8.6" letter-spacing="0.6" fill="#000">232</text>
<text x="652.1" y="46.4" font-family="&quot;Liberation Sans&quot;, sans-serif" font-size="11.9" fill="#000">Th</text>
<text x="635.4" y="58.70" font-family="&quot;Liberation Sans&quot;, sans-serif" font-size="8.6" letter-spacing="0.6" fill="#000">40</text>
<text x="645.9" y="63.4" font-family="&quot;Liberation Sans&quot;, sans-serif" font-size="11.9" fill="#000">K</text>
</svg>
</body></html>
